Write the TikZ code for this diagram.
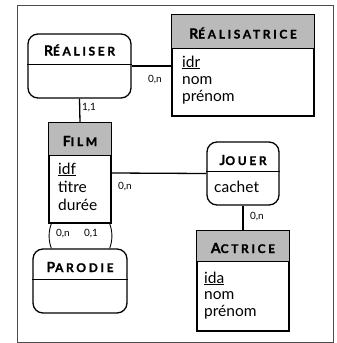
\documentclass[tikz,border=0pt]{standalone}
\usepackage{fontspec}
\setmainfont{Lato}
\newfontfamily\hdrfont[LetterSpace=22,FakeBold=1.2]{Lato Bold}
\newcommand\hdr[2]{{\hdrfont\fontsize{14}{14}\selectfont #1\fontsize{12}{12}\selectfont #2}}
\begin{document}
\begin{tikzpicture}[x=1pt,y=-1pt,
  ln/.style={line width=1.3pt},
  ent/.style={draw,line width=1.3pt,inner sep=0pt},
  assoc/.style={draw,line width=1.3pt,rounded corners=10pt,inner sep=0pt},
  attr/.style={anchor=base west,inner sep=0pt,font=\fontsize{15.5}{17.5}\selectfont},
  card/.style={inner sep=0pt,font=\fontsize{10}{10}\selectfont},
  hfill/.style={fill=black!27}]
\useasboundingbox (0,0) rectangle (337,343);
\draw[line width=0.8pt,black!70] (17,5) rectangle (333,342);
% Realisatrice
\node[ent,minimum width=142pt,minimum height=101pt] (rea) at (243,65.5) {};
\fill[hfill] (rea.north west) rectangle ([yshift=-34pt]rea.north east);
\draw[ln] (rea.north west) rectangle (rea.south east);
\draw[ln] ([yshift=-34pt]rea.north west) -- ([yshift=-34pt]rea.north east);
\node (reah) at (243,33) {\hdr{R}{ÉALISATRICE}};
\node[attr] (rea1) at (182,67) {\underline{idr}};
\node[attr] (rea2) at (182,84) {nom};
\node[attr] (rea3) at (182,101) {prénom};
% Realiser
\node[assoc,minimum width=103pt,minimum height=64pt] (rer) at (79.5,66) {};
\draw[ln] ([yshift=-31pt]rer.north west) -- ([yshift=-31pt]rer.north east);
\node (rerh) at (79.5,50) {\hdr{R}{ÉALISER}};
% Film
\node[ent,minimum width=62pt,minimum height=100pt] (film) at (80,173) {};
\fill[hfill] (film.north west) rectangle ([yshift=-33pt]film.north east);
\draw[ln] (film.north west) rectangle (film.south east);
\draw[ln] ([yshift=-33pt]film.north west) -- ([yshift=-33pt]film.north east);
\node (filmh) at (80,141) {\hdr{F}{ILM}};
\node[attr] (film1) at (58,174) {\underline{idf}};
\node[attr] (film2) at (58,192) {titre};
\node[attr] (film3) at (58,210) {durée};
% Jouer
\node[assoc,minimum width=72pt,minimum height=63pt] (jou) at (243,173.5) {};
\draw[ln] ([yshift=-30pt]jou.north west) -- ([yshift=-30pt]jou.north east);
\node (jouh) at (243,160) {\hdr{J}{OUER}};
\node[attr] (jou1) at (214,192) {cachet};
% Actrice
\node[ent,minimum width=92pt,minimum height=100pt] (act) at (243,281) {};
\fill[hfill] (act.north west) rectangle ([yshift=-31pt]act.north east);
\draw[ln] (act.north west) rectangle (act.south east);
\draw[ln] ([yshift=-31pt]act.north west) -- ([yshift=-31pt]act.north east);
\node (acth) at (243,248) {\hdr{A}{CTRICE}};
\node[attr] (act1) at (204,283) {\underline{ida}};
\node[attr] (act2) at (204,299.5) {nom};
\node[attr] (act3) at (204,316) {prénom};
% Parodie
\node[assoc,minimum width=94pt,minimum height=64pt] (par) at (80,281) {};
\draw[ln] ([yshift=-31pt]par.north west) -- ([yshift=-31pt]par.north east);
\node (parh) at (80,267) {\hdr{P}{ARODIE}};
% connectors
\draw[ln] (rer.east) -- (rer.east -| rea.west);
\draw[ln] (rer.south) -- (film.north);
\draw[ln] (film.east) -- (jou.west);
\draw[ln] (jou.south) -- (act.north);
\coordinate (pl) at ([xshift=3pt]film.south west);
\coordinate (pr) at ([xshift=-2pt]film.south east);
\draw[line width=0.9pt] (pl) .. controls +(-3,8) and +(-3,-8) .. (pl |- par.north);
\draw[line width=0.9pt] (pr) .. controls +(3,8) and +(3,-8) .. (pr |- par.north);
% cardinalities
\node[card] (c1) at (155,80) {0,n};
\node[card] (c2) at (89,108) {1,1};
\node[card] (c3) at (125,187) {0,n};
\node[card] (c4) at (257,217) {0,n};
\node[card] (c5) at (63,234) {0,n};
\node[card] (c6) at (91,234) {0,1};
\end{tikzpicture}
\end{document}
